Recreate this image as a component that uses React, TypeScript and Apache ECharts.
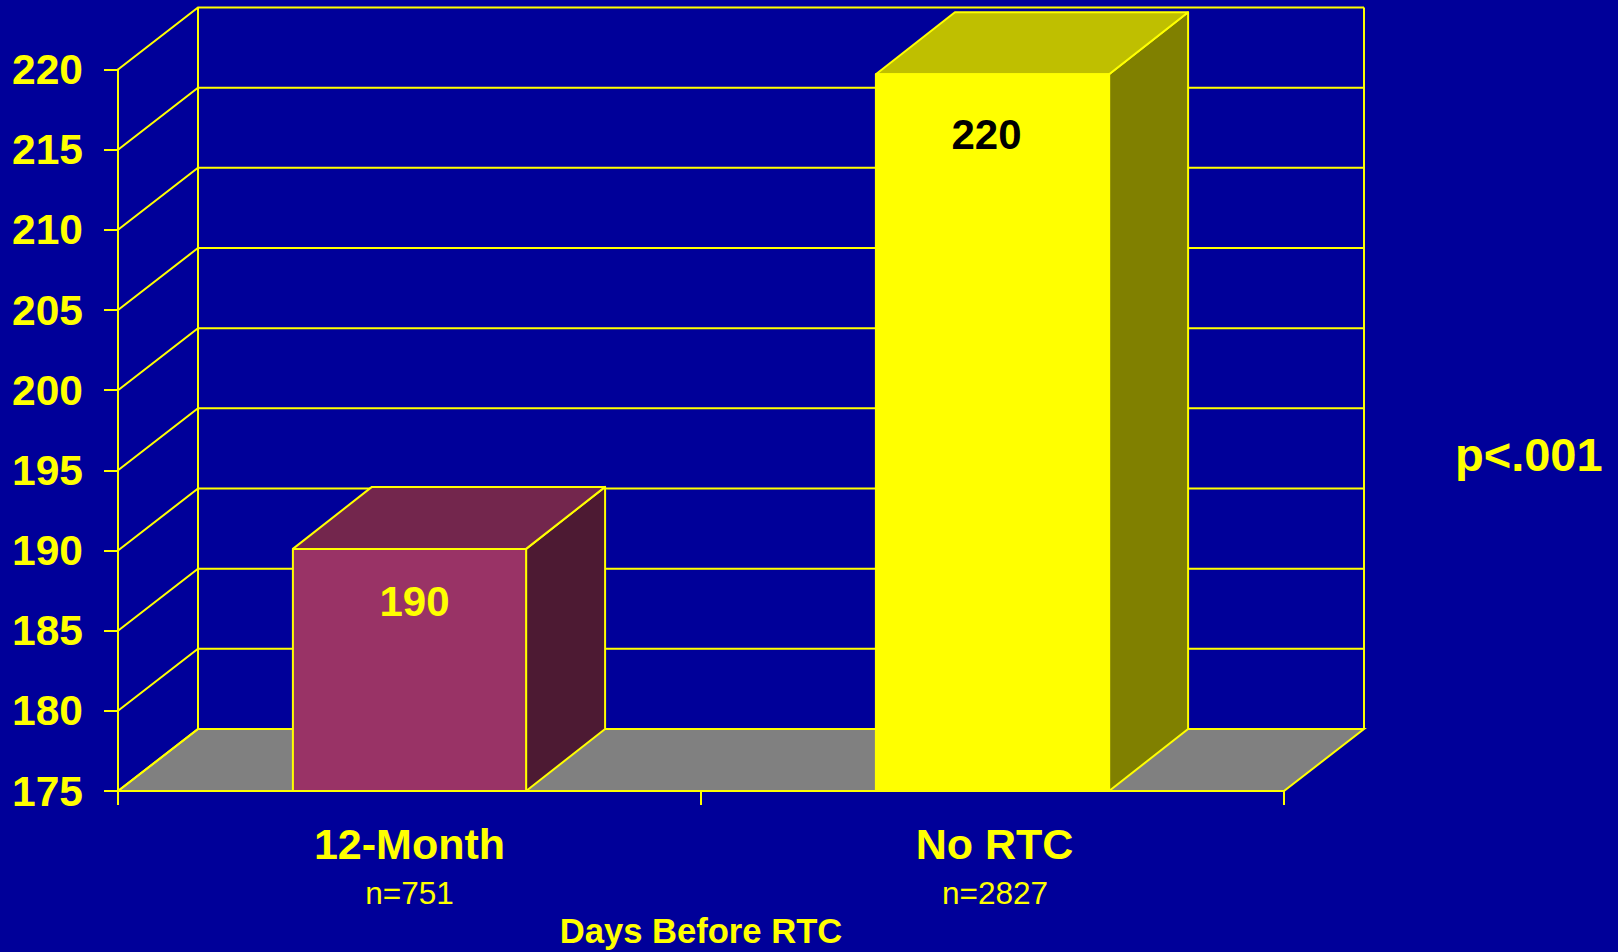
import React, { useEffect, useRef } from "react";
import * as echarts from "echarts";

const categories = ["12-Month", "No RTC"];
const sampleSizes = ["n=751", "n=2827"];
const barHeights = [190.1, 219.7];
const barLabels = ["190", "220"];
const yTicks = [175, 180, 185, 190, 195, 200, 205, 210, 215, 220];
const xAxisTitle = "Days Before RTC";
const note = "p<.001";

const FONT = '"Liberation Sans", Arial, sans-serif';
const BG = "#000099";
const YELLOW = "#FFFF00";
const DX = 80;
const DY = 62;
const BAR_DX = 79;
const barFaces = [
  { front: "#993366", top: "#73264D", side: "#4D1A33", label: YELLOW, labelDx: 5, labelDy: 53 },
  { front: "#FFFF00", top: "#BFBF00", side: "#808000", label: "#000000", labelDx: -6, labelDy: 60 },
];

export default function App() {
  const ref = useRef<HTMLDivElement>(null);
  useEffect(() => {
    document.body.style.margin = "0";
    document.body.style.background = BG;
    const chart = echarts.init(ref.current!, undefined, { renderer: "svg" });
    const line = (width: number) => ({ stroke: YELLOW, lineWidth: width, fill: "none" });
    const catStyle = { color: YELLOW, fontSize: 43, fontWeight: "bold", fontFamily: FONT, lineHeight: 48 };
    const nStyle = { color: YELLOW, fontSize: 31.5, fontFamily: FONT, lineHeight: 50 };
    chart.setOption({
      animation: false,
      backgroundColor: BG,
      textStyle: { fontFamily: FONT },
      grid: { left: 118, top: 69.5, width: 1166, height: 721.5, containLabel: false, outerBoundsMode: "none" },
      xAxis: {
        type: "category",
        data: categories,
        name: xAxisTitle,
        nameLocation: "middle",
        nameGap: 119,
        nameTextStyle: { color: YELLOW, fontSize: 34.6, fontWeight: "bold", fontFamily: FONT },
        axisLine: { show: true, lineStyle: { color: YELLOW, width: 2 } },
        axisTick: { show: true, length: 14, lineStyle: { color: YELLOW, width: 2 } },
        axisLabel: {
          interval: 0,
          margin: 29,
          formatter: (v: string) => {
            const i = categories.indexOf(v);
            return i === 0 ? `{a|${v}}\n{b|${sampleSizes[i]}}` : `{c|${v}}\n{d|${sampleSizes[i]}}`;
          },
          rich: {
            a: catStyle,
            b: nStyle,
            c: { ...catStyle, padding: [0, 0, 0, 4] },
            d: { ...nStyle, padding: [0, 0, 0, 5] },
          },
        },
        splitLine: { show: false },
      },
      yAxis: {
        type: "value",
        min: 175,
        max: 220,
        interval: 5,
        axisLine: { show: true, lineStyle: { color: YELLOW, width: 2 } },
        axisTick: { show: true, length: 14, lineStyle: { color: YELLOW, width: 2 } },
        axisLabel: {
          color: YELLOW,
          fontSize: 42.5,
          fontWeight: "bold",
          fontFamily: FONT,
          margin: 35,
          padding: [0, 0, 2, 0],
        },
        splitLine: { show: false },
      },
      graphic: [
        {
          type: "text",
          x: 1455,
          y: 454,
          style: { text: note, fill: YELLOW, font: `bold 47px ${FONT}`, verticalAlign: "middle" },
        },
      ],
      series: [
        {
          type: "custom",
          name: "walls",
          silent: true,
          z: 2,
          data: yTicks.map((t) => [0, t]),
          renderItem: (params: any, api: any) => {
            const cs = params.coordSys;
            const y = api.coord([0, api.value(1)])[1];
            const backL = cs.x + DX;
            const backR = cs.x + cs.width + DX;
            const children: any[] = [];
            if (params.dataIndex === 0) {
              const fy = cs.y + cs.height;
              children.push({
                type: "polygon",
                shape: {
                  points: [
                    [cs.x, fy],
                    [backL, fy - DY],
                    [backR, fy - DY],
                    [cs.x + cs.width, fy],
                  ],
                },
                style: { fill: "#808080", stroke: YELLOW, lineWidth: 2 },
              });
              children.push({
                type: "line",
                shape: { x1: backL, y1: cs.y - DY, x2: backL, y2: fy - DY },
                style: line(2),
              });
              children.push({
                type: "line",
                shape: { x1: backR, y1: cs.y - DY, x2: backR, y2: fy - DY },
                style: line(2),
              });
            }
            children.push({
              type: "polyline",
              shape: {
                points: [
                  [cs.x, y],
                  [backL, y - DY],
                  [backR, y - DY],
                ],
              },
              style: line(2),
            });
            return { type: "group", children };
          },
        },
        {
          type: "custom",
          name: "bars",
          silent: true,
          z: 3,
          data: barHeights.map((v, i) => [i, v]),
          renderItem: (params: any, api: any) => {
            const i = params.dataIndex;
            const f = barFaces[i];
            const top = api.coord([api.value(0), api.value(1)]);
            const base = api.coord([api.value(0), 175]);
            const w = api.size([1, 0])[0] * 0.4;
            const l = top[0] - w / 2;
            const r = top[0] + w / 2;
            const t = top[1];
            const b = base[1];
            const edge = { stroke: YELLOW, lineWidth: 2, lineJoin: "round" };
            return {
              type: "group",
              children: [
                {
                  type: "polygon",
                  shape: { points: [[r, t], [r + BAR_DX, t - DY], [r + BAR_DX, b - DY], [r, b]] },
                  style: { fill: f.side, ...edge },
                },
                {
                  type: "polygon",
                  shape: { points: [[l, t], [l + BAR_DX, t - DY], [r + BAR_DX, t - DY], [r, t]] },
                  style: { fill: f.top, ...edge },
                },
                {
                  type: "rect",
                  shape: { x: l, y: t, width: w, height: b - t },
                  style: { fill: f.front, ...edge },
                },
                {
                  type: "text",
                  style: {
                    text: barLabels[i],
                    x: top[0] + f.labelDx,
                    y: t + f.labelDy,
                    fill: f.label,
                    font: `bold 42px ${FONT}`,
                    align: "center",
                    verticalAlign: "middle",
                  },
                },
              ],
            };
          },
        },
      ],
    });
    return () => chart.dispose();
  }, []);
  return <div ref={ref} style={{ position: "absolute", left: 0, top: 0, width: 1618, height: 952 }} />;
}
